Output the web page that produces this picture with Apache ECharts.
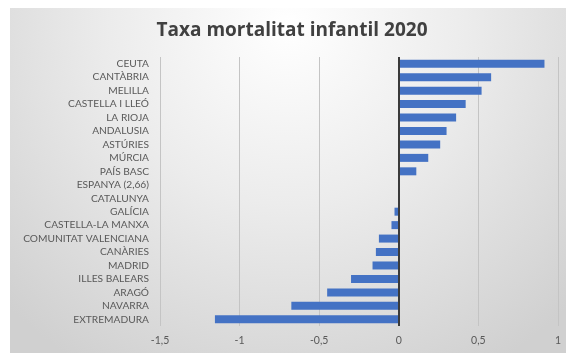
<!DOCTYPE html>
<html>
<head>
<meta charset="utf-8">
<script src="https://cdn.jsdelivr.net/npm/echarts@6/dist/echarts.min.js"></script>
<style>
html,body{margin:0;padding:0;background:#fff;}
#chart{width:566px;height:353px;}
</style>
</head>
<body>
<div id="chart"></div>
<script>
const titleText = 'Taxa mortalitat infantil 2020';
const categories = ['CEUTA','CANTÀBRIA','MELILLA','CASTELLA I LLEÓ','LA RIOJA','ANDALUSIA','ASTÚRIES','MÚRCIA','PAÍS BASC','ESPANYA (2,66)','CATALUNYA','GALÍCIA','CASTELLA-LA MANXA','COMUNITAT VALENCIANA','CANÀRIES','MADRID','ILLES BALEARS','ARAGÓ','NAVARRA','EXTREMADURA'];
const values = [0.915,0.58,0.52,0.42,0.36,0.30,0.26,0.185,0.11,0,0,-0.027,-0.046,-0.125,-0.144,-0.165,-0.30,-0.45,-0.675,-1.155];
const xTicks = {min:-1.5, max:1, interval:0.5};

const chart = echarts.init(document.getElementById('chart'));
chart.setOption({
  animation:false,
  graphic:[{
    type:'rect', z:-10, silent:true,
    shape:{x:10,y:8,width:556,height:345},
    style:{fill:{type:'radial',x:0.5,y:0.05,r:1.15,colorStops:[{offset:0,color:'#ffffff'},{offset:0.45,color:'#ececec'},{offset:1,color:'#d0d0d0'}]}}
  },{
    type:'text', x:292, y:31, silent:true,
    style:{text:titleText,fill:'#404040',font:'bold 19px "Open Sans"',textAlign:'center',textVerticalAlign:'middle'}
  }],
  grid:{left:160,right:8,top:57,bottom:27,containLabel:false},
  xAxis:{type:'value',min:xTicks.min,max:xTicks.max,interval:xTicks.interval,
    axisLine:{show:false},axisTick:{show:false},
    splitLine:{show:true,lineStyle:{color:'#c4c4c4',width:1}},
    axisLabel:{margin:9,color:'#595959',fontFamily:'Lato',fontSize:10.5,formatter:v=>String(v).replace('.',',')}},
  yAxis:{type:'category',data:categories,inverse:true,
    axisLine:{show:false},axisTick:{show:false},splitLine:{show:false},
    axisLabel:{interval:0,margin:11,color:'#595959',fontFamily:'Lato',fontSize:10.2}},
  series:[{type:'bar',data:values,barWidth:8,itemStyle:{color:'#4472c4'},
    markLine:{silent:true,symbol:'none',label:{show:false},lineStyle:{color:'#3a3a3a',width:2,type:'solid'},data:[{xAxis:0}]}}]
});
</script>
</body>
</html>
